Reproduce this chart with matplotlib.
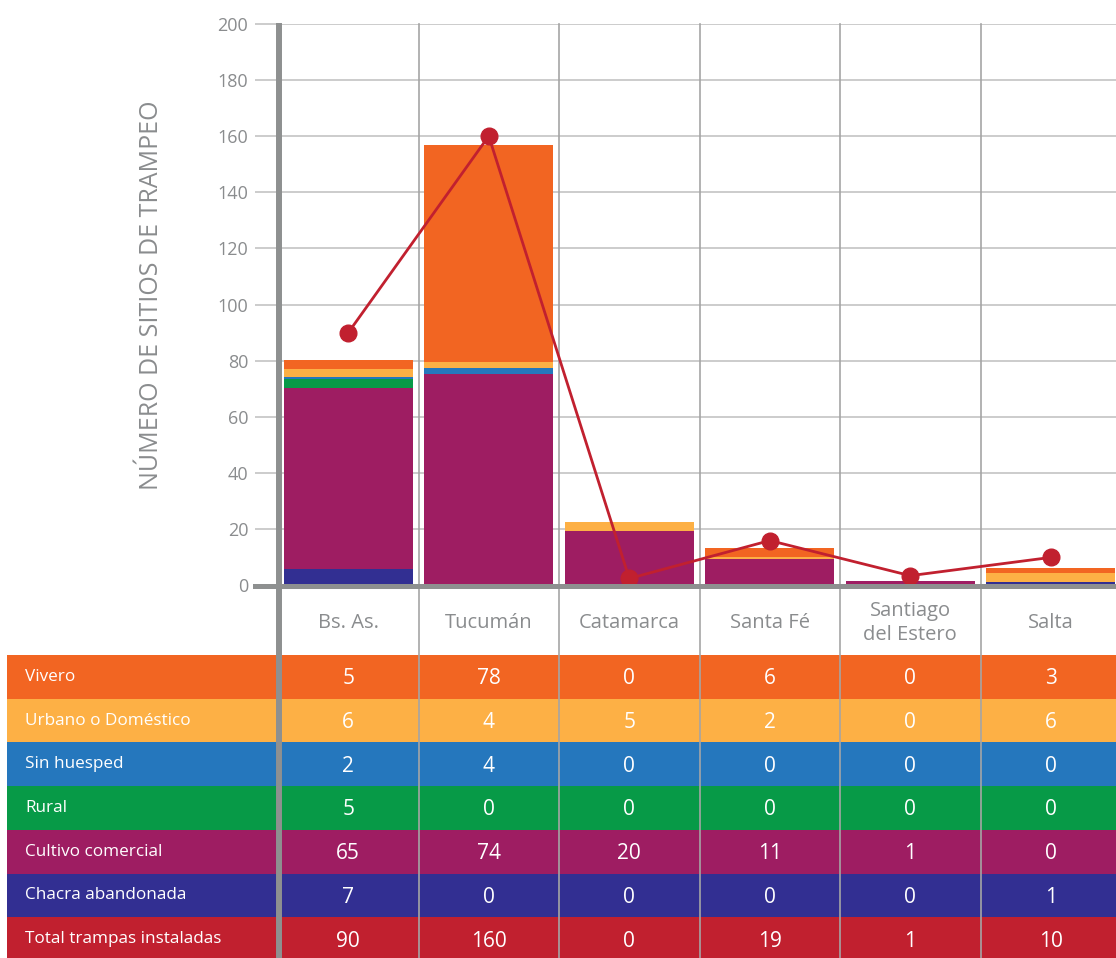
import matplotlib.pyplot as plt
import matplotlib.transforms as mtransforms
from matplotlib.lines import Line2D
from matplotlib.patches import Rectangle
import numpy as np

plt.rcParams['font.family'] = ['Open Sans', 'DejaVu Sans']

# Datos
provincias = ["Bs. As.", "Tucumán", "Catamarca", "Santa Fé", "Santiago\ndel Estero", "Salta"]
categorias = ["Vivero", "Urbano o Doméstico", "Sin huesped", "Rural",
              "Cultivo comercial", "Chacra abandonada", "Total trampas instaladas"]

# valores de la tabla
tabla_vivero = [5, 78, 0, 6, 0, 3]
tabla_urbano = [6, 4, 5, 2, 0, 6]
tabla_sin_huesped = [2, 4, 0, 0, 0, 0]
tabla_rural = [5, 0, 0, 0, 0, 0]
tabla_cultivo = [65, 74, 20, 11, 1, 0]
tabla_chacra = [7, 0, 0, 0, 0, 1]
tabla_total = [90, 160, 0, 19, 1, 10]

# alturas de las barras tal como aparecen en el grafico
barra_chacra = [5.9, 0, 0, 0, 0, 1.3]
barra_cultivo = [64.3, 75.4, 19.4, 9.6, 1.7, 0]
barra_rural = [3.2, 0, 0, 0, 0, 0]
barra_sin_huesped = [0.8, 2.2, 0, 0, 0, 0]
barra_urbano = [3.0, 2.1, 3.2, 0.7, 0, 3.2]
barra_vivero = [3.2, 77, 0, 3.1, 0, 1.8]
linea_total = [90, 160, 2.5, 16, 3.5, 10]

colores = ["#f26522", "#fdb045", "#2577bd", "#079a47", "#9e1d62", "#322f92", "#c1202f"]
gris_eje = "#8e9090"
gris_texto = "#8a8c8e"

W, H = 1116, 958
fx = lambda px: px / W
fy = lambda py: 1 - py / H

fig = plt.figure(figsize=(W / 100, H / 100), dpi=100)
col_w = 140.5
ax = fig.add_axes([fx(278), fy(585.5), 6 * col_w / W, (585.5 - 23.7) / H])
ax.set_xlim(0, 6)
ax.set_ylim(0, 200)
for s in ax.spines.values():
    s.set_visible(False)

x = np.arange(6) + 0.5
series = [barra_chacra, barra_cultivo, barra_rural, barra_sin_huesped, barra_urbano, barra_vivero]
series_col = [colores[5], colores[4], colores[3], colores[2], colores[1], colores[0]]
base = np.zeros(6)
for vals, c in zip(series, series_col):
    ax.bar(x, vals, bottom=base, width=0.92, color=c, zorder=2, clip_on=False)
    base += np.array(vals)

ax.plot(x, linea_total, color=colores[6], lw=2, marker='o', ms=12, zorder=6, clip_on=False)

# grid y ticks
ax.set_axisbelow(True)
ax.set_yticks(range(0, 201, 20))
ax.yaxis.grid(True, color="#c4c4c4", lw=1.2)
ax.tick_params(axis='y', direction='out', length=16.5, width=1.2, color="#c4c4c4",
               labelcolor=gris_texto, labelsize=13, pad=5)
ax.set_xticks([])

trans = mtransforms.blended_transform_factory(ax.transData, fig.transFigure)

# tabla
row_h = 43.7
x_izq = (7 - 278) / col_w
for i, (cat, vals) in enumerate(zip(categorias, [tabla_vivero, tabla_urbano, tabla_sin_huesped,
                                                 tabla_rural, tabla_cultivo, tabla_chacra,
                                                 tabla_total])):
    top = 655 + i * row_h
    ax.add_patch(Rectangle((x_izq, fy(top + row_h)), 6.5 - x_izq, row_h / H,
                           transform=trans, color=colores[i], clip_on=False, zorder=1, lw=0))
    fig.text(fx(25), fy(top + row_h / 2), cat, color="white", fontsize=12.3,
             ha='left', va='center')
    for j, v in enumerate(vals):
        ax.text(x[j], fy(top + row_h / 2 + 2), str(v), transform=trans, color="white",
                fontsize=15, ha='center', va='center', zorder=7)

# nombres de provincias
for j, p in enumerate(provincias):
    ax.text(x[j], fy(623), p, transform=trans, color=gris_texto, fontsize=14.5,
            ha='center', va='center', linespacing=1.25)

# lineas verticales de separacion
for k in range(1, 6):
    ax.add_line(Line2D([k, k], [fy(23.7), 0], transform=trans, color="#a5a5a5",
                       lw=1.2, zorder=4, clip_on=False))

# ejes gruesos
fig.add_artist(Line2D([fx(279), fx(279)], [fy(26), 0], color=gris_eje, lw=4.3, zorder=10))
fig.add_artist(Line2D([fx(255), 1], [fy(585.5), fy(585.5)], color=gris_eje, lw=3.6, zorder=10))

fig.text(fx(152), fy(295), "NÚMERO DE SITIOS DE TRAMPEO", rotation=90, color=gris_texto,
         fontsize=18, ha='center', va='center')

fig.savefig("out.png", dpi=100)
